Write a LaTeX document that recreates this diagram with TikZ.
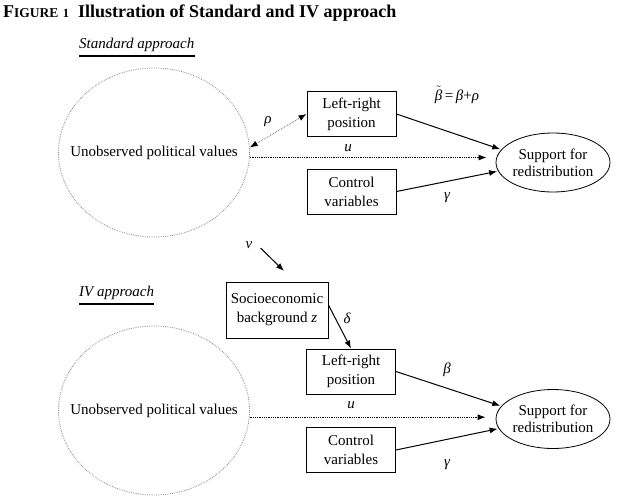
\documentclass[tikz,border=0pt]{standalone}
\usepackage{fontspec}
\setmainfont{Liberation Serif}
\usetikzlibrary{arrows.meta,shapes.geometric}
\begin{document}
\begin{tikzpicture}[x=1pt,y=-1pt,
  txt/.style={font=\fontsize{15}{19}\selectfont},
  greek/.style={font=\fontsize{15}{15}\selectfont\itshape, inner sep=1pt},
  box/.style={draw, line width=0.9pt, minimum width=89pt, minimum height=45pt, align=center, inner sep=2pt, font=\fontsize{15}{19}\selectfont},
  latent/.style={ellipse, draw=gray, dash pattern=on 0.7pt off 1.1pt, line width=0.8pt, minimum width=191pt, minimum height=169pt, inner sep=0pt},
  outc/.style={ellipse, draw, line width=0.8pt, minimum width=114pt, minimum height=59pt, inner sep=0pt},
  intext/.style={align=center, inner sep=0pt, font=\fontsize{15}{17}\selectfont},
  arr/.style={-{Latex[length=8pt,width=6pt]}, line width=1pt},
  darr/.style={{Latex[length=8pt,width=6pt,color=black]}-{Latex[length=8pt,width=6pt,color=black]}, draw=gray, line width=0.9pt, dash pattern=on 0.8pt off 1pt},
  uarr/.style={-{Latex[length=8pt,width=6pt]}, line width=0.9pt, dash pattern=on 0.8pt off 1pt},
  head/.style={font=\fontsize{15}{15}\selectfont\itshape, anchor=west, inner sep=0pt}
]
\path[use as bounding box, fill=white] (0,0) rectangle (620,502);

% title
\node[anchor=west, inner sep=0pt, font=\fontsize{18}{18}\selectfont\bfseries] (title) at (3,13)
  {F{\fontsize{13.5}{13.5}\selectfont IGURE}\ {\fontsize{12.5}{12.5}\selectfont 1}\enspace Illustration of Standard and IV approach};

% ---------- Standard approach ----------
\node[head] (sa) at (79,45) {Standard approach};
\draw[line width=1.8pt] ([yshift=-7pt]sa.base west) -- ([yshift=-7pt]sa.base east);

\node[latent] (lat1) at (154,152.5) {};
\node[intext] (lat1t) at (lat1.center) {Unobserved political values};
\node[box] (lr1) at (351.5,114) {Left-right\\position};
\node[box] (ctl1) at (351.5,191.5) {Control\\variables};
\node[outc] (out1) at (553,162.5) {};
\node[intext] (out1t) at (out1.center) {Support for\\redistribution};

\draw[darr] (lat1.3) -- (lr1.west);
\draw[uarr, shorten >=9pt] (lat1.-3) -- (lat1.-3 -| out1.west);
\draw[arr, shorten >=1pt] (lr1.east) -- (out1.166);
\draw[arr, shorten >=1pt] (ctl1.east) -- (out1.189);

\node[greek] (rho1) at (268,122) {ρ};
\node[greek] (u1) at (348,148) {u};
\node[inner sep=0pt, font=\fontsize{15}{15}\selectfont] (bt) at (457,95) {$\tilde{\mbox{\itshape β}}$\,=\,{\itshape β}+{\itshape ρ}};
\node[greek] (g1) at (447,198) {γ};

% ---------- IV approach ----------
\node[greek] (v) at (249,245) {v};
\coordinate (vend) at (284,271);
\draw[arr] ([xshift=7pt,yshift=-3pt]v.east) -- (vend);

\node[head] (iv) at (79,293) {IV approach};
\draw[line width=1.8pt] ([yshift=-7pt]iv.base west) -- ([yshift=-7pt]iv.base east);

\node[box, minimum width=102pt, minimum height=56pt] (soc) at (277,310) {Socioeconomic\\background {\itshape z}};
\node[latent] (lat2) at (154,410.5) {};
\node[intext] (lat2t) at (lat2.center) {Unobserved political values};
\node[box] (lr2) at (351,371.5) {Left-right\\position};
\node[box] (ctl2) at (351,450) {Control\\variables};
\node[outc] (out2) at (553,419) {};
\node[intext] (out2t) at (out2.center) {Support for\\redistribution};

\draw[arr] ([yshift=5pt]soc.east) -- (lr2.north);
\draw[uarr, shorten >=10pt] (lat2.-4) -- (lat2.-4 -| out2.west);
\draw[arr, shorten >=1pt] (lr2.east) -- (out2.166);
\draw[arr, shorten >=1pt] (ctl2.east) -- (out2.190);

\node[greek] (d) at (347,318) {δ};
\node[greek] (b2) at (447,370) {β};
\node[greek] (u2) at (351,405) {u};
\node[greek] (g2) at (447,465) {γ};
\end{tikzpicture}
\end{document}
